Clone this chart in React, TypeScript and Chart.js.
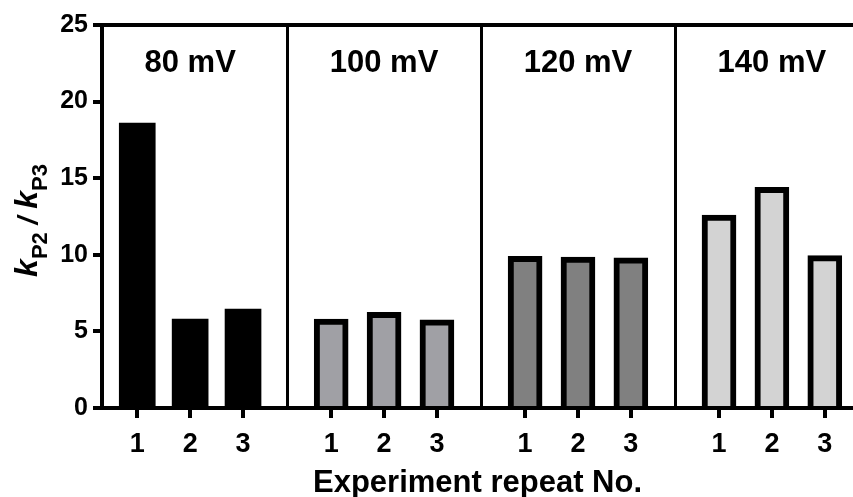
import React, { useEffect, useRef } from 'react';
import { Chart, registerables } from 'chart.js';

Chart.register(...registerables);

const FONT = '"Liberation Sans", Arial, Helvetica, sans-serif';

// ---- data ----
const groupLabels = ['80 mV', '100 mV', '120 mV', '140 mV'];
const repeatLabels = ['1', '2', '3'];
const values80 = [18.6, 5.8, 6.45];
const values100 = [5.8, 6.25, 5.75];
const values120 = [9.9, 9.85, 9.8];
const values140 = [12.6, 14.4, 9.95];
const groupValues = [values80, values100, values120, values140];
const groupColors = ['#000000', '#a0a0a5', '#808080', '#d3d3d3'];
const groupBorderWidths = [0, 6, 6, 6];
const yTickValues = [0, 5, 10, 15, 20, 25];
const xTitle = 'Experiment repeat No.';

// layout of the category positions on the numeric x axis (group period / step between repeats)
const GROUP_PERIOD = 11;
const REPEAT_STEP = 3;
const xPos = (g: number, i: number) => g * GROUP_PERIOD + i * REPEAT_STEP;
const tickPositions: number[] = [];
const tickTexts: string[] = [];
groupLabels.forEach((_, g) => repeatLabels.forEach((lab, i) => { tickPositions.push(xPos(g, i)); tickTexts.push(lab); }));

const decorPlugin = {
  id: 'decor',
  afterDraw(chart: any) {
    const { ctx, chartArea, scales } = chart;
    const xs = scales.x;
    ctx.save();
    ctx.strokeStyle = '#000';
    ctx.lineWidth = 4;
    ctx.beginPath();
    ctx.moveTo(chartArea.left - 2, chartArea.top);
    ctx.lineTo(chartArea.right, chartArea.top);
    ctx.stroke();
    ctx.lineWidth = 3;
    for (let g = 1; g < groupLabels.length; g++) {
      const mid = (xPos(g - 1, repeatLabels.length - 1) + xPos(g, 0)) / 2;
      const px = Math.round(xs.getPixelForValue(mid)) + 0.5;
      ctx.beginPath();
      ctx.moveTo(px, chartArea.top);
      ctx.lineTo(px, chartArea.bottom + 2);
      ctx.stroke();
    }
    ctx.fillStyle = '#000';
    ctx.font = `bold 31px ${FONT}`;
    ctx.textAlign = 'center';
    ctx.textBaseline = 'alphabetic';
    groupLabels.forEach((lab, g) => {
      const px = xs.getPixelForValue(xPos(g, 1));
      ctx.fillText(lab, px, chartArea.top + 47);
    });
    ctx.restore();

    // y axis title k_P2 / k_P3
    const parts = [
      { t: 'k', f: `italic bold 32px ${FONT}`, dy: 0 },
      { t: 'P2', f: `bold 22px ${FONT}`, dy: 10 },
      { t: ' / ', f: `italic bold 28px ${FONT}`, dy: 0 },
      { t: 'k', f: `italic bold 32px ${FONT}`, dy: 0 },
      { t: 'P3', f: `bold 22px ${FONT}`, dy: 10 },
    ];
    ctx.save();
    let total = 0;
    const widths = parts.map((p) => { ctx.font = p.f; const w = ctx.measureText(p.t).width; total += w; return w; });
    const cy = (chartArea.top + chartArea.bottom) / 2 + 4;
    ctx.translate(37, cy);
    ctx.rotate(-Math.PI / 2);
    ctx.fillStyle = '#000';
    ctx.textAlign = 'left';
    ctx.textBaseline = 'alphabetic';
    let cx = -total / 2;
    parts.forEach((p, i) => { ctx.font = p.f; ctx.fillText(p.t, cx, p.dy); cx += widths[i]; });
    ctx.restore();
  },
};

export default function App() {
  const ref = useRef<HTMLCanvasElement | null>(null);
  useEffect(() => {
    document.body.style.margin = '0';
    const canvas = ref.current!;
    const datasets = groupValues.map((vals, g) => ({
      label: groupLabels[g],
      data: vals.map((v, i) => ({ x: xPos(g, i), y: v })),
      backgroundColor: groupColors[g],
      borderColor: '#000000',
      borderWidth: groupBorderWidths[g],
      barThickness: g === 0 ? 36 : 34,
      grouped: false,
    }));
    const chart = new Chart(canvas, {
      type: 'bar',
      data: { datasets } as any,
      options: {
        animation: false,
        responsive: false,
        devicePixelRatio: 1,
        layout: { padding: { top: 25, left: 0, right: 0, bottom: 0 } },
        plugins: { legend: { display: false }, tooltip: { enabled: false } },
        scales: {
          x: {
            type: 'linear',
            min: -2,
            max: 40.6,
            offset: false,
            grid: { offset: false, drawOnChartArea: false, drawTicks: true, tickLength: 10, lineWidth: 4, color: '#000' },
            border: { display: true, width: 4, color: '#000' },
            afterBuildTicks: (s: any) => { s.ticks = tickPositions.map((v) => ({ value: v })); },
            afterFit: (s: any) => { s.height = 89; },
            ticks: {
              autoSkip: false,
              maxRotation: 0,
              padding: 10,
              color: '#000',
              font: { family: FONT, size: 27, weight: 'bold' },
              callback: (_v: any, i: number) => tickTexts[i],
            },
            title: { display: true, text: xTitle, color: '#000', font: { family: FONT, size: 31, weight: 'bold', lineHeight: 0.8 }, padding: { top: 0, bottom: 1 } },
          },
          y: {
            type: 'linear',
            min: 0,
            max: 25,
            grid: { drawOnChartArea: false, drawTicks: true, tickLength: 9, lineWidth: 4, color: '#000' },
            border: { display: true, width: 4, color: '#000' },
            afterBuildTicks: (s: any) => { s.ticks = yTickValues.map((v) => ({ value: v })); },
            afterFit: (s: any) => { s.width = 102; },
            ticks: { padding: 5, color: '#000', font: { family: FONT, size: 25, weight: 'bold' } },
          },
        },
      } as any,
      plugins: [decorPlugin],
    });
    return () => chart.destroy();
  }, []);
  return (
    <div style={{ position: 'absolute', left: 0, top: 0, width: 853, height: 497, background: '#fff' }}>
      <canvas ref={ref} width={853} height={497} style={{ display: 'block' }} />
    </div>
  );
}
